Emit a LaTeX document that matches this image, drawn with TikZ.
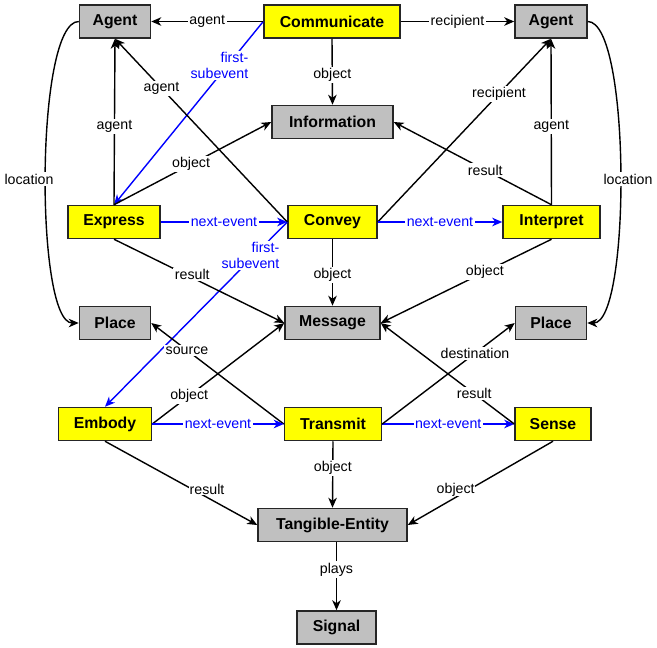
\documentclass[tikz,border=0pt]{standalone}
\usepackage{fontspec}
\setmainfont{Liberation Sans}
\usetikzlibrary{arrows.meta}
\definecolor{nodeyellow}{RGB}{255,255,0}
\definecolor{nodegray}{RGB}{192,192,192}
\definecolor{linkblue}{RGB}{0,0,255}
\begin{document}
\begin{tikzpicture}[x=1pt,y=-1pt,
 box/.style={draw=black!85, line width=1.5pt, minimum height=33pt, inner sep=0pt, font=\fontsize{15.8}{18}\selectfont\bfseries},
 ev/.style={box, fill=nodeyellow},
 ent/.style={box, fill=nodegray},
 rel/.style={draw=black, line width=1.4pt, -{Stealth[length=10pt,width=8.5pt,inset=3pt]}},
 seq/.style={rel, draw=linkblue},
 lab/.style={fill=white, inner sep=1.5pt, font=\fontsize{14.2}{16}\selectfont, text=black},
 blab/.style={lab, text=linkblue},
]
\useasboundingbox[fill=white] (0,0) rectangle (657,648);

\node[ent, minimum width=71pt] (agL) at (115,21.5) {Agent};
\node[ev, minimum width=136pt] (comm) at (332,21.5) {Communicate};
\node[ent, minimum width=72pt] (agR) at (551,21.5) {Agent};
\node[ent, minimum width=121pt] (info) at (332.5,122) {Information};
\node[ev, minimum width=92pt] (expr) at (114,222) {Express};
\node[ev, minimum width=89pt] (conv) at (332.5,222) {Convey};
\node[ev, minimum width=97pt] (intp) at (551.5,222) {Interpret};
\node[ent, minimum width=71pt] (plL) at (115,323) {Place};
\node[ent, minimum width=95pt] (msg) at (332.5,323) {Message};
\node[ent, minimum width=71pt] (plR) at (551,323) {Place};
\node[ev, minimum width=93pt] (emb) at (105,424) {Embody};
\node[ev, minimum width=97pt] (trans) at (333,424) {Transmit};
\node[ev, minimum width=76pt] (sense) at (553,424) {Sense};
\node[ent, minimum width=149pt] (te) at (332.5,525) {Tangible-Entity};
\node[ent, minimum width=79pt] (sig) at (336.5,627.5) {Signal};

\draw[seq] (comm.west) -- node[blab, pos=0.24, xshift=-8pt, align=right]{first-\\subevent} (expr.north);
\draw[seq] (conv.west) -- node[blab, pos=0.18, xshift=-4pt, align=right]{first-\\subevent} (emb.north);

\draw[rel] (comm.west) -- node[lab]{agent} (agL.east);
\draw[rel] (comm.east) -- node[lab]{recipient} (agR.west);
\draw[rel] (comm.south) -- node[lab,pos=0.55]{object} (info.north);
\draw[rel] (expr.north) -- node[lab,pos=0.47]{agent} (agL.south);
\draw[rel] (conv.west) -- node[lab,pos=0.73]{agent} (agL.south);
\draw[rel] (expr.north) -- node[lab,pos=0.49]{object} (info.west);
\draw[rel] (conv.east) -- node[lab,pos=0.7]{recipient} (agR.south);
\draw[rel] (intp.north) -- node[lab,pos=0.47]{agent} (agR.south);
\draw[rel] (intp.north) -- node[lab,pos=0.42]{result} (info.east);
\draw[seq] (expr.east) -- node[blab]{next-event} (conv.west);
\draw[seq] (conv.east) -- node[blab]{next-event} (intp.west);
\draw[rel] (conv.south) -- node[lab,pos=0.54]{object} (msg.north);
\draw[rel] (expr.south) -- node[lab,pos=0.46,yshift=3pt]{result} (msg.west);
\draw[rel] (intp.south) -- node[lab,pos=0.39]{object} (msg.east);
\draw[rel] (agL.west) .. controls (35,21.5) and (35,323) .. (plL.west);
\node[lab] (locL) at (29,179) {location};
\draw[rel] (agR.east) .. controls (631,21.5) and (631,323) .. (plR.east);
\node[lab] (locR) at (628,179) {location};
\draw[rel] (trans.west) -- node[lab,pos=0.73]{source} (plL.east);
\draw[rel] (emb.east) -- node[lab,pos=0.28]{object} (msg.west);
\draw[seq] (emb.east) -- node[blab]{next-event} (trans.west);
\draw[seq] (trans.east) -- node[blab]{next-event} (sense.west);
\draw[rel] (trans.east) -- node[lab,pos=0.7]{destination} (plR.west);
\draw[rel] (sense.west) -- node[lab,pos=0.3]{result} (msg.east);
\draw[rel] (trans.south) -- node[lab,pos=0.4]{object} (te.north);
\draw[rel] (emb.south) -- node[lab,pos=0.67,yshift=8pt,inner sep=0.5pt]{result} (te.west);
\draw[rel] (sense.south) -- node[lab,pos=0.67,yshift=8pt,inner sep=0.5pt]{object} (te.east);
\draw[rel] (te.south -| sig.north) -- node[lab,pos=0.4]{plays} (sig.north);
\end{tikzpicture}
\end{document}
